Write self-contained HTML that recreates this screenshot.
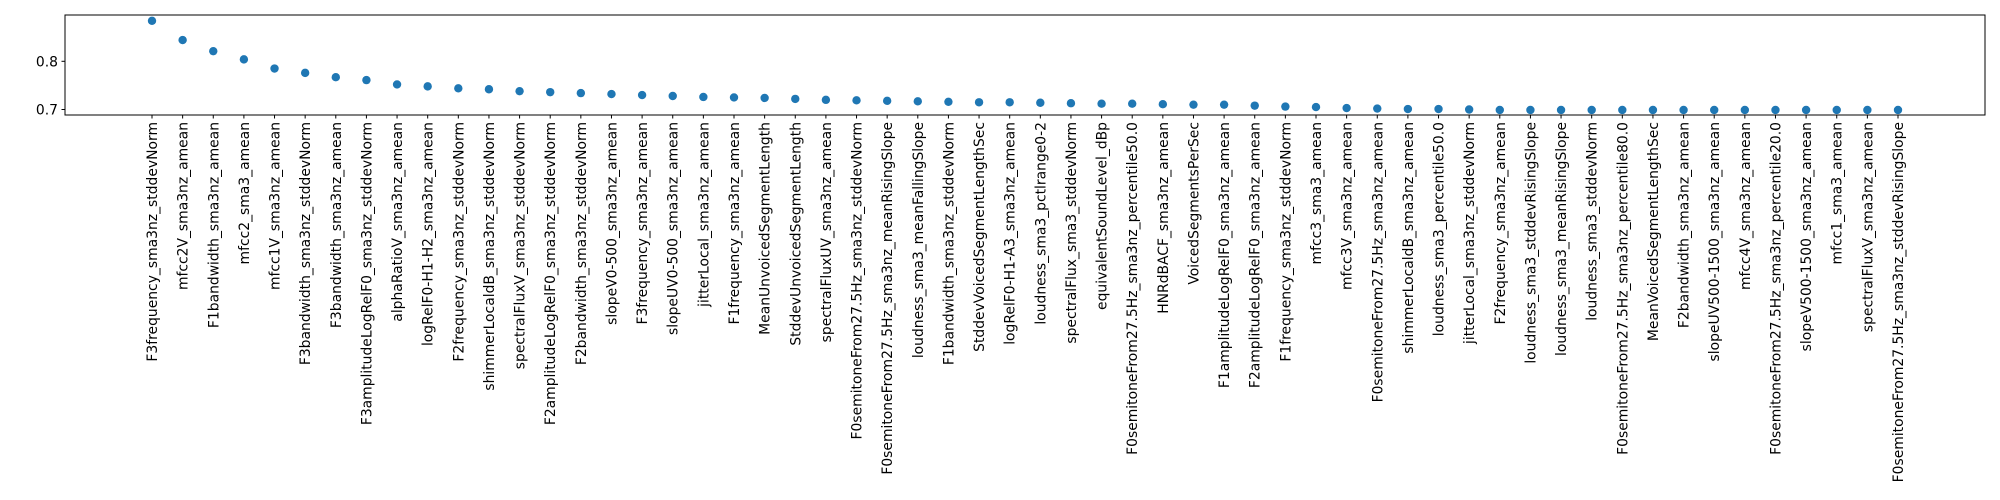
<!DOCTYPE html>
<html><head><meta charset="utf-8"><style>
body{margin:0;background:#fff}
svg{display:block;font-family:"DejaVu Sans","Liberation Sans",sans-serif}
</style></head><body>
<svg id="chart" width="2000" height="500" viewBox="0 0 2000 500" xmlns="http://www.w3.org/2000/svg">
<rect width="2000" height="500" fill="#fff"/>
<g id="plot"></g>
</svg>
<script>
const categories=["F3frequency_sma3nz_stddevNorm","mfcc2V_sma3nz_amean","F1bandwidth_sma3nz_amean","mfcc2_sma3_amean","mfcc1V_sma3nz_amean","F3bandwidth_sma3nz_stddevNorm","F3bandwidth_sma3nz_amean","F3amplitudeLogRelF0_sma3nz_stddevNorm","alphaRatioV_sma3nz_amean","logRelF0-H1-H2_sma3nz_amean","F2frequency_sma3nz_stddevNorm","shimmerLocaldB_sma3nz_stddevNorm","spectralFluxV_sma3nz_stddevNorm","F2amplitudeLogRelF0_sma3nz_stddevNorm","F2bandwidth_sma3nz_stddevNorm","slopeV0-500_sma3nz_amean","F3frequency_sma3nz_amean","slopeUV0-500_sma3nz_amean","jitterLocal_sma3nz_amean","F1frequency_sma3nz_amean","MeanUnvoicedSegmentLength","StddevUnvoicedSegmentLength","spectralFluxUV_sma3nz_amean","F0semitoneFrom27.5Hz_sma3nz_stddevNorm","F0semitoneFrom27.5Hz_sma3nz_meanRisingSlope","loudness_sma3_meanFallingSlope","F1bandwidth_sma3nz_stddevNorm","StddevVoicedSegmentLengthSec","logRelF0-H1-A3_sma3nz_amean","loudness_sma3_pctlrange0-2","spectralFlux_sma3_stddevNorm","equivalentSoundLevel_dBp","F0semitoneFrom27.5Hz_sma3nz_percentile50.0","HNRdBACF_sma3nz_amean","VoicedSegmentsPerSec","F1amplitudeLogRelF0_sma3nz_amean","F2amplitudeLogRelF0_sma3nz_amean","F1frequency_sma3nz_stddevNorm","mfcc3_sma3_amean","mfcc3V_sma3nz_amean","F0semitoneFrom27.5Hz_sma3nz_amean","shimmerLocaldB_sma3nz_amean","loudness_sma3_percentile50.0","jitterLocal_sma3nz_stddevNorm","F2frequency_sma3nz_amean","loudness_sma3_stddevRisingSlope","loudness_sma3_meanRisingSlope","loudness_sma3_stddevNorm","F0semitoneFrom27.5Hz_sma3nz_percentile80.0","MeanVoicedSegmentLengthSec","F2bandwidth_sma3nz_amean","slopeUV500-1500_sma3nz_amean","mfcc4V_sma3nz_amean","F0semitoneFrom27.5Hz_sma3nz_percentile20.0","slopeV500-1500_sma3nz_amean","mfcc1_sma3_amean","spectralFluxV_sma3nz_amean","F0semitoneFrom27.5Hz_sma3nz_stddevRisingSlope"];
const values=[0.884,0.844,0.821,0.804,0.785,0.776,0.767,0.761,0.752,0.748,0.744,0.742,0.738,0.736,0.734,0.732,0.730,0.728,0.726,0.725,0.724,0.722,0.720,0.719,0.718,0.717,0.716,0.715,0.715,0.714,0.713,0.712,0.712,0.711,0.710,0.710,0.708,0.706,0.705,0.703,0.702,0.701,0.701,0.700,0.699,0.699,0.699,0.699,0.699,0.699,0.699,0.699,0.699,0.699,0.699,0.699,0.699,0.699];
const yTicks=[0.7,0.8];
const yTickLabels=["0.7","0.8"];

const NS="http://www.w3.org/2000/svg";
const g=document.getElementById('plot');
const L=65,R=1985,T=15,B=115;
const x=i=>152+i*(1898-152)/(categories.length-1);
const y=v=>61.3-(v-0.8)*482;
function mk(t,a){const e=document.createElementNS(NS,t);for(const k in a)e.setAttribute(k,a[k]);g.appendChild(e);return e;}

yTicks.forEach((t,i)=>{
  const ln=mk('line',{x1:L-3.5,x2:L,y1:y(t),y2:y(t),stroke:'#000','stroke-width':1});
  
  
  const tx=mk('text',{x:L-7,y:y(t)+5,'text-anchor':'end','font-size':13.9,fill:'#000'});
  tx.textContent=yTickLabels[i];
  
  
});
categories.forEach((c,i)=>{
  const xi=x(i);
  const ln=mk('line',{x1:xi,x2:xi,y1:B,y2:B+3.5,stroke:'#000','stroke-width':1});
  
  
  const tx=mk('text',{x:0,y:0,'text-anchor':'end','font-size':13.9,fill:'#000',transform:`translate(${xi+5},${B+7}) rotate(-90)`});
  tx.textContent=c;
  
  
  const p=mk('circle',{cx:xi,cy:y(values[i]),r:4.2,fill:'#1f77b4'});
  
  
});
const fr=mk('rect',{x:L,y:T,width:R-L,height:B-T,fill:'none',stroke:'#000','stroke-width':1});


</script>
</body></html>
